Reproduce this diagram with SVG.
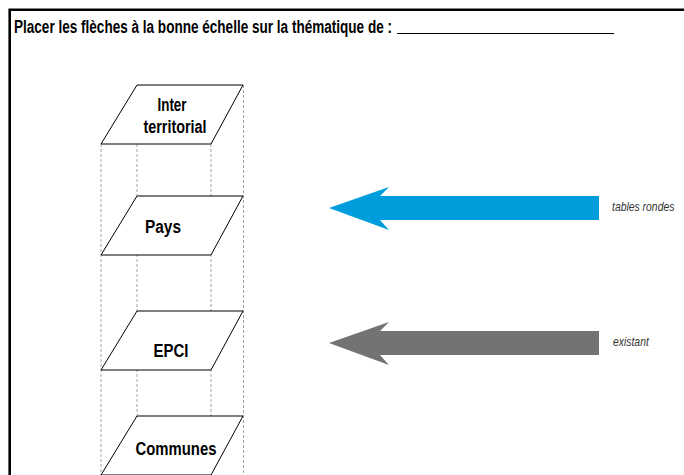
<svg xmlns="http://www.w3.org/2000/svg" width="684" height="475" viewBox="0 0 684 475">
<style>
.frame{fill:none;stroke:#000;stroke-width:2.6}
.guide{fill:none;stroke:#a8a298;stroke-width:1;stroke-dasharray:3 2}
.plane{fill:#fff;stroke:#000;stroke-width:1}
.lbl{font-family:"Liberation Sans",Arial,sans-serif;font-weight:bold;font-size:17.5px;fill:#000;text-anchor:middle}
.note{font-family:"Liberation Sans",Arial,sans-serif;font-style:italic;font-size:13px;fill:#333}
.title{font-family:"Liberation Sans",Arial,sans-serif;font-weight:bold;font-size:17.5px;fill:#000}
</style>
<rect width="684" height="475" fill="#fff"/>
<path class="frame" d="M9.7,475 V9.7 H684"/>
<text class="title" x="14" y="33" textLength="378" lengthAdjust="spacingAndGlyphs">Placer les flèches à la bonne échelle sur la thématique de :</text>
<line x1="397" y1="33.5" x2="614" y2="33.5" stroke="#000" stroke-width="1.2"/>
<g id="guides">
<line class="guide" x1="101" y1="144" x2="101" y2="475"/>
<line class="guide" x1="137" y1="144" x2="137" y2="475"/>
<line class="guide" x1="211" y1="144" x2="211" y2="475"/>
<line class="guide" x1="243.5" y1="85" x2="243.5" y2="475"/>
</g>
<g id="inter">
<polygon class="plane" points="137,85 243,85 211,144 101,144"/>
<text class="lbl" x="172" y="110.5" textLength="29" lengthAdjust="spacingAndGlyphs">Inter</text>
<text class="lbl" x="175" y="132.5" textLength="63" lengthAdjust="spacingAndGlyphs">territorial</text>
</g>
<g id="pays">
<polygon class="plane" points="137,196 243,196 211,255 101,255"/>
<text class="lbl" x="163" y="232.5" textLength="36" lengthAdjust="spacingAndGlyphs">Pays</text>
</g>
<g id="epci">
<polygon class="plane" points="137,311 243,311 211,370 101,370"/>
<text class="lbl" x="171" y="356.5" textLength="35" lengthAdjust="spacingAndGlyphs">EPCI</text>
</g>
<g id="communes">
<polygon class="plane" points="137,416 243,416 211,475 101,475"/>
<text class="lbl" x="176" y="454.5" textLength="81" lengthAdjust="spacingAndGlyphs">Communes</text>
</g>
<g id="connectors">
<polygon fill="#009ddc" points="329,208 389,187 380,196 599,196 599,220 380,220 389,230"/>
<polygon fill="#737373" points="329,343 389,322 380,331 599,331 599,355 380,355 389,365"/>
</g>
<text class="note" transform="translate(612,211) scale(0.8,1)" x="0" y="0">tables rondes</text>
<text class="note" transform="translate(613,346) scale(0.8,1)" x="0" y="0">existant</text>
</svg>
